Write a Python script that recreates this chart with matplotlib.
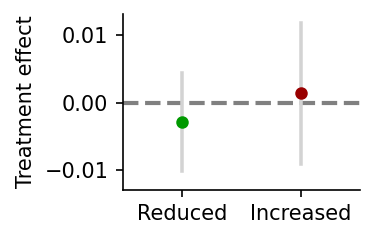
import matplotlib
matplotlib.use("Agg")
import matplotlib.pyplot as plt

groups = ["Reduced", "Increased"]
effects = [-0.0029, 0.0014]
ci_low = [-0.0101, -0.0090]
ci_high = [0.0044, 0.0118]
colors = ["#009900", "#990000"]

fig = plt.figure(figsize=(2.5, 241 / 150), dpi=150)
ax = fig.add_axes([0.328, 0.212, 0.632, 0.730])

ax.axhline(0, color="gray", linestyle="--", linewidth=2, zorder=1)
for i in range(len(groups)):
    ax.plot([i, i], [ci_low[i], ci_high[i]], color="lightgray", linewidth=1.7, zorder=2)
    ax.plot(i, effects[i], "o", color=colors[i], markersize=5, zorder=3)

ax.set_xticks(range(len(groups)))
ax.set_xticklabels(groups)
ax.set_xlim(-0.5, 1.5)
ax.set_ylim(-0.0129, 0.0131)
ax.set_yticks([-0.01, 0.0, 0.01])
ax.set_yticklabels(["\u22120.01", "0.00", "0.01"])
ax.set_ylabel("Treatment effect")
ax.spines["top"].set_visible(False)
ax.spines["right"].set_visible(False)

fig.savefig("out.png", dpi=150)
